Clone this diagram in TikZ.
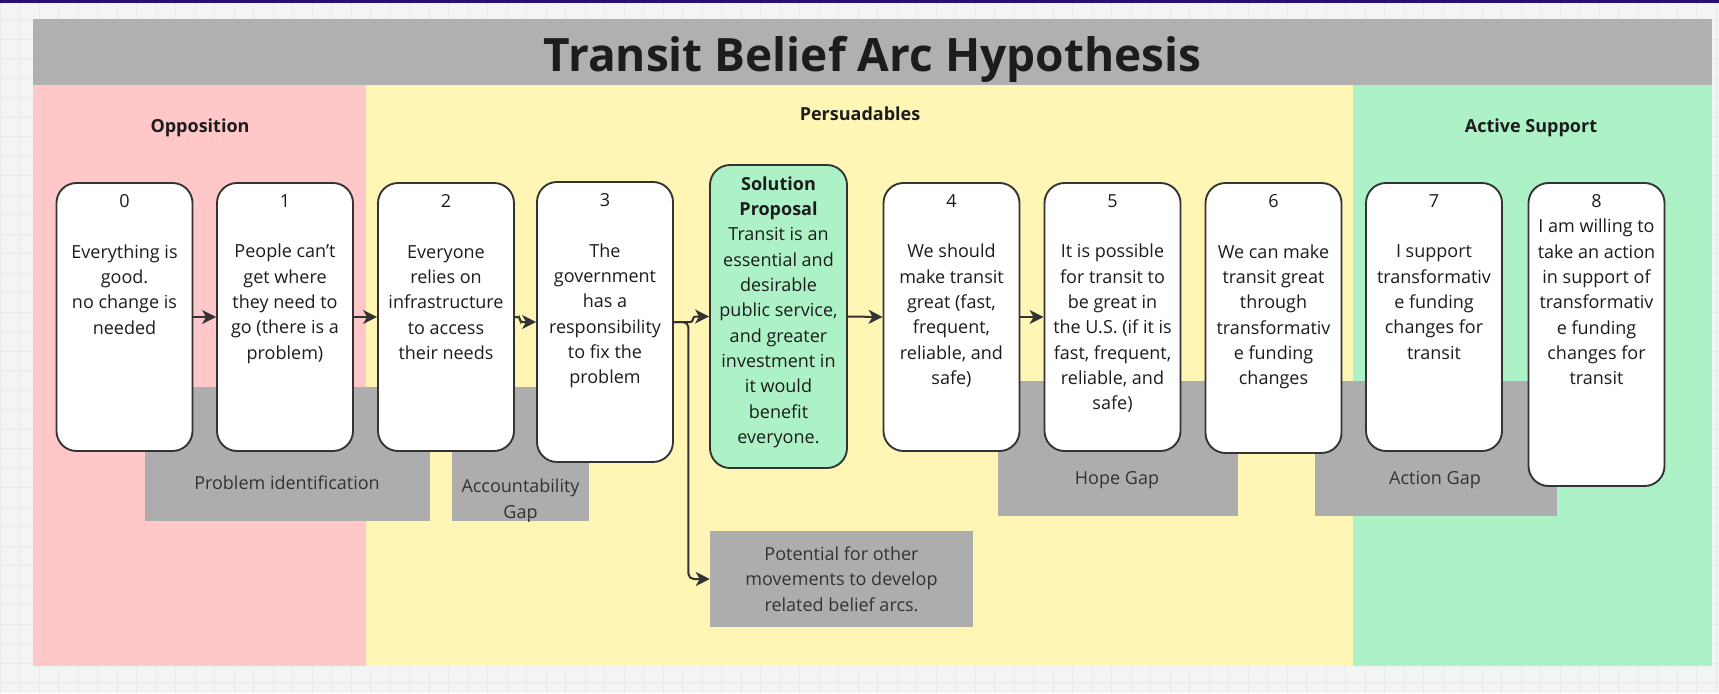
\documentclass[tikz,border=0pt]{standalone}
\usepackage{fontspec}
\setmainfont{Open Sans}
\usepackage{tikz}
\usetikzlibrary{positioning,arrows.meta}
\usepackage{xcolor}
\definecolor{oppred}{RGB}{255,199,199}
\definecolor{persyellow}{RGB}{255,245,181}
\definecolor{supgreen}{RGB}{173,242,198}
\definecolor{gapgray}{RGB}{173,173,173}
\definecolor{titlegray}{RGB}{176,176,176}
\definecolor{edgeink}{RGB}{51,51,51}
\definecolor{ink}{RGB}{28,28,28}
\definecolor{boardbg}{RGB}{243,244,244}
\definecolor{boardgrid}{RGB}{232,233,233}
\definecolor{topbar}{RGB}{40,16,120}

\begin{document}
\begin{tikzpicture}[x=0.75pt,y=-0.75pt,
  every node/.style={text=ink,font=\fontsize{13.5}{19}\selectfont},
  stage/.style={draw=edgeink,fill=white,line width=1.4pt,rounded corners=15pt,
    minimum width=102pt,minimum height=201pt,inner sep=0pt},
  stagetext/.style={align=center,inner sep=0pt},
  gap/.style={fill=gapgray,inner sep=0pt},
  gaplabel/.style={text=edgeink,align=center,inner sep=0pt},
  head/.style={font=\fontsize{13.5}{19}\selectfont\bfseries,anchor=base},
  flow/.style={draw=edgeink,line width=1.5pt,-{Stealth[length=10.5pt,width=10.5pt,inset=3pt]}}]
\useasboundingbox (0,0) rectangle (1719,693);
\fill[boardbg] (0,0) rectangle (1719,693);
\draw[boardgrid,line width=0.6pt,step=14.625pt] (0,693) grid (1719,0);
\fill[topbar] (0,0) rectangle (1719,2.5);

\fill[titlegray] (33,19) rectangle (1712,85);
\fill[oppred] (33,85) rectangle (366,666);
\fill[persyellow] (366,85) rectangle (1353,666);
\fill[supgreen] (1353,85) rectangle (1712,666);

\node[anchor=base,font=\fontsize{34.5}{40}\selectfont\bfseries] (title) at (872.5,71) {Transit Belief Arc Hypothesis};
\node[head] (opp) at (200,132) {Opposition};
\node[head] (pers) at (860,120) {Persuadables};
\node[head] (act) at (1531,132) {Active Support};

\node[gap,minimum width=213.75pt,minimum height=100.5pt] (gpi) at (287.5,454) {};
\node[gap,minimum width=102.75pt,minimum height=100.5pt] (gag) at (520.5,454) {};
\node[gap,minimum width=180pt,minimum height=101.25pt] (ghg) at (1118,448.5) {};
\node[gap,minimum width=181.5pt,minimum height=101.25pt] (gacg) at (1436,448.5) {};
\node[gap,text=edgeink,align=center,minimum width=197.25pt,minimum height=72pt] (pot) at (841.5,579)
  {Potential for other\\movements to develop\\related belief arcs.};

\node[gaplabel,anchor=base] (gpilbl) at (287,489) {Problem identification};
\begin{scope}
\clip (gag.south west) rectangle (gag.north east);
\node[gaplabel,anchor=north] (gaglbl) at (520.5,479) {Accountability\\Gap};
\end{scope}
\node[gaplabel,anchor=base] (ghglbl) at (1117,484) {Hope Gap};
\node[gaplabel,anchor=base] (gacglbl) at (1435,484) {Action Gap};

\node[stage] (b0) at (124.5,317) {};
\node[stagetext,below=9pt of b0.north] (t0) {0\\[19pt]Everything is\\good.\\no change is\\needed};
\node[stage] (b1) at (285,317) {};
\node[stagetext,below=9pt of b1.north] (t1) {1\\[19pt]People can't\\get where\\they need to\\go (there is a\\problem)};
\node[stage] (b2) at (446,317) {};
\node[stagetext,below=9pt of b2.north] (t2) {2\\[19pt]Everyone\\relies on\\infrastructure\\to access\\their needs};
\node[stage,minimum height=210pt] (b3) at (605,322) {};
\node[stagetext,below=9pt of b3.north] (t3) {3\\[19pt]The\\government\\has a\\responsibility\\to fix the\\problem};
\node[stage,fill=supgreen,minimum width=102.75pt,minimum height=227.25pt] (sol) at (778.5,316.5) {};
\node[stagetext,below=9pt of sol.north] (tsol) {\textbf{Solution}\\\textbf{Proposal}\\Transit is an\\essential and\\desirable\\public service,\\and greater\\investment in\\it would\\benefit\\everyone.};
\node[stage] (b4) at (951.5,317) {};
\node[stagetext,below=9pt of b4.north] (t4) {4\\[19pt]We should\\make transit\\great (fast,\\frequent,\\reliable, and\\safe)};
\node[stage] (b5) at (1112.5,317) {};
\node[stagetext,below=9pt of b5.north] (t5) {5\\[19pt]It is possible\\for transit to\\be great in\\the U.S. (if it is\\fast, frequent,\\reliable, and\\safe)};
\node[stage,minimum height=202.5pt] (b6) at (1273.5,318) {};
\node[stagetext,below=9pt of b6.north] (t6) {6\\[19pt]We can make\\transit great\\through\\transformativ\\e funding\\changes};
\node[stage] (b7) at (1434,317) {};
\node[stagetext,below=9pt of b7.north] (t7) {7\\[19pt]I support\\transformativ\\e funding\\changes for\\transit};
\node[stage,minimum height=227.25pt] (b8) at (1596.5,334.5) {};
\node[stagetext,below=9pt of b8.north] (t8) {8\\I am willing to\\take an action\\in support of\\transformativ\\e funding\\changes for\\transit};

\draw[flow] (b0.east) -- (b1.west);
\draw[flow] (b1.east) -- (b2.west);
\draw[flow,rounded corners=2pt] (b2.east) -- ++(5,0) |- (b3.west);
\draw[flow,rounded corners=2pt] (b3.east) -- ++(19,0) |- (sol.west);
\draw[flow,rounded corners=4pt] (b3.east) -- ++(14.5,0) |- (pot.west);
\draw[flow] (sol.east) -- (b4.west);
\draw[flow] (b4.east) -- (b5.west);
\end{tikzpicture}
\end{document}
